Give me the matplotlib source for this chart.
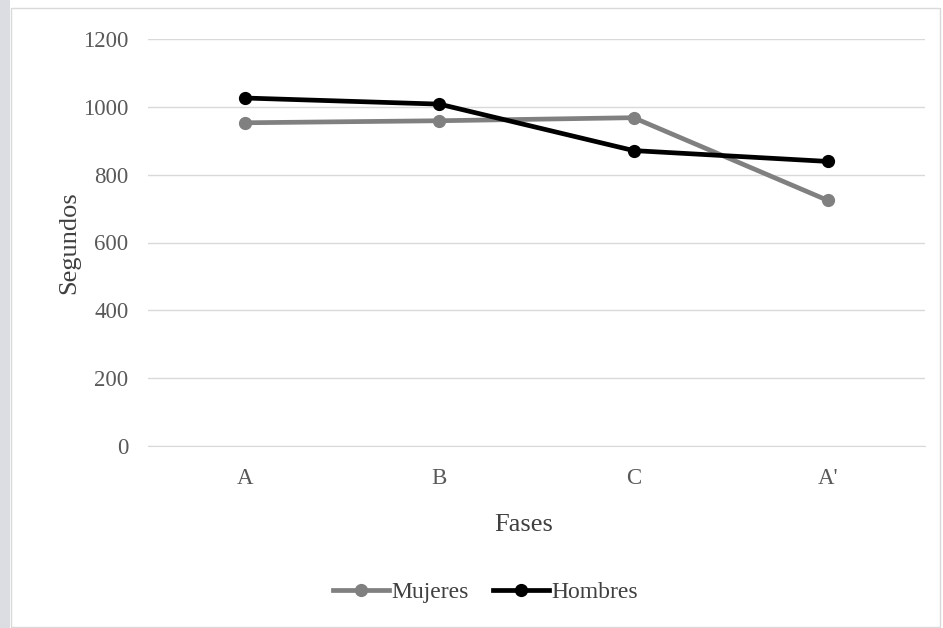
import matplotlib.pyplot as plt
from matplotlib.patches import Rectangle

fases = ["A", "B", "C", "A'"]
mujeres = [953, 959, 968, 724]
hombres = [1026, 1008, 871, 839]
y_ticks = [0, 200, 400, 600, 800, 1000, 1200]

plt.rcParams['font.family'] = ['Liberation Serif', 'DejaVu Serif']

fig = plt.figure(figsize=(9.43, 6.28), dpi=100)
fig.patch.set_facecolor('white')

# franja gris a la izquierda y marco del gráfico
fig.patches.append(Rectangle((0, 0), 10 / 943, 1, transform=fig.transFigure,
                             facecolor='#dcdde2', edgecolor='none', zorder=0))
fig.patches.append(Rectangle((11 / 943, 0.002), 0.985, 0.986, transform=fig.transFigure,
                             facecolor='none', edgecolor='#d9d9d9', linewidth=1, zorder=0))

ax = fig.add_axes([148 / 943, 1 - 446 / 628, (925 - 148) / 943, (446 - 39) / 628])
x = list(range(len(fases)))

ax.plot(x, mujeres, color='#808080', linewidth=3.4, marker='o', markersize=8.5,
        label='Mujeres', zorder=3)
ax.plot(x, hombres, color='#000000', linewidth=3.4, marker='o', markersize=8.5,
        label='Hombres', zorder=4)

ax.set_xlim(-0.5, len(fases) - 0.5)
ax.set_ylim(0, 1200)
ax.set_yticks(y_ticks)
ax.set_xticks(x)
ax.set_xticklabels(fases)
ax.yaxis.grid(True, color='#d9d9d9', linewidth=1)
ax.set_axisbelow(True)
for s in ['top', 'right', 'left']:
    ax.spines[s].set_visible(False)
ax.spines['bottom'].set_color('#d9d9d9')
ax.tick_params(axis='both', length=0, labelsize=16.5, labelcolor='#595959')
ax.tick_params(axis='y', pad=14)
ax.tick_params(axis='x', pad=16)

ax.set_ylabel('Segundos', fontsize=19, color='#404040', labelpad=2)
ax.set_xlabel('Fases', fontsize=19, color='#404040', labelpad=18)
ax.xaxis.label.set_x(0.484)

fig.legend(loc='center', bbox_to_anchor=(0.515, 1 - 592 / 628), ncol=2, frameon=False,
           fontsize=17, handlelength=2.4, columnspacing=1.0, handletextpad=0.1,
           labelcolor='#404040')

fig.savefig('out.png', dpi=100)
